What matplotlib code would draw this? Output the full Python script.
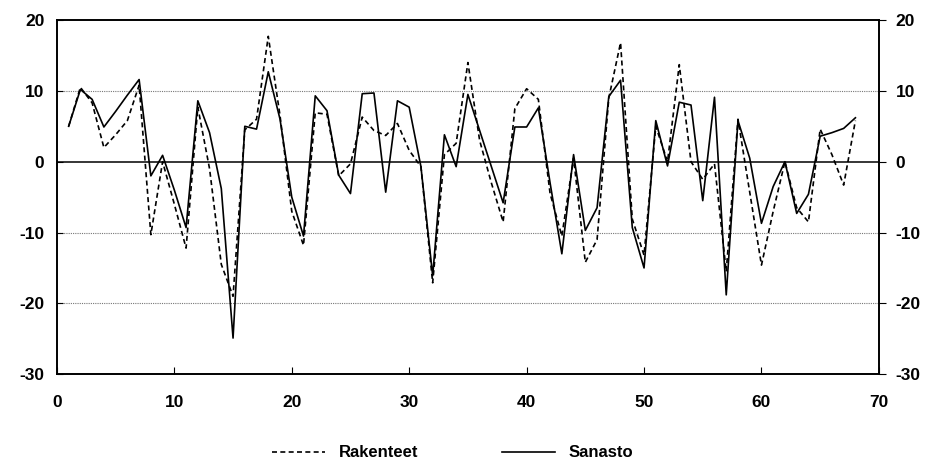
import matplotlib
matplotlib.use("Agg")
from matplotlib import pyplot as plt
import numpy as np

# havainnot 1..68
x = np.arange(1, 69)

sanasto = [5.0, 10.2, 8.8, 4.9, 7.1, 9.4, 11.6, -2.0, 0.9, -4.0,
           -9.3, 8.6, 4.1, -3.8, -24.9, 5.0, 4.6, 12.7, 6.0, -5.0,
           -10.5, 9.3, 7.2, -1.9, -4.5, 9.6, 9.7, -4.3, 8.6, 7.7,
           -0.7, -16.1, 3.8, -0.7, 9.5, 4.4, -0.7, -5.8, 4.9, 4.9,
           7.6, -3.0, -13.0, 1.0, -9.7, -6.5, 9.2, 11.5, -9.3, -15.0,
           5.8, -0.6, 8.4, 8.0, -5.5, 9.1, -18.8, 5.8, 0.5, -8.7,
           -3.5, 0.0, -7.3, -4.6, 3.6, 4.1, 4.7, 6.2]

rakenteet = [5.0, 10.5, 8.3, 2.0, 3.8, 5.8, 10.8, -10.3, 0.0, -6.0,
             -12.2, 7.7, -1.0, -14.5, -19.0, 4.5, 6.0, 17.7, 6.5, -7.0,
             -11.8, 6.9, 6.7, -2.0, -0.3, 6.3, 4.4, 3.7, 5.4, 1.6,
             -0.7, -17.1, 1.0, 2.6, 14.0, 3.0, -3.0, -8.5, 7.5, 10.3,
             8.8, -4.5, -10.5, 0.5, -14.2, -11.0, 9.0, 16.8, -8.1, -13.2,
             5.0, 0.0, 13.7, 0.0, -2.5, -0.3, -15.5, 6.0, -4.3, -14.6,
             -7.0, 0.0, -6.5, -8.5, 4.6, 1.0, -3.3, 5.8]

xticks = [0, 10, 20, 30, 40, 50, 60, 70]
yticks = [-30, -20, -10, 0, 10, 20]

plt.rcParams['font.family'] = ['Liberation Sans', 'DejaVu Sans']
plt.rcParams['axes.unicode_minus'] = False
plt.rcParams['font.weight'] = 'bold'

fig = plt.figure(figsize=(9.33, 4.66), dpi=100)
ax = fig.add_axes([0.061, 0.197, 0.881, 0.76])

for g in [10, -10, -20]:
	ax.axhline(g, color="#777777", lw=0.8, ls=(0, (1, 1)), zorder=1)
ax.axhline(0, color="black", lw=1.1, zorder=1)

l1, = ax.plot(x, rakenteet, color="black", lw=1.2, ls=(0, (3, 2)), label="Rakenteet")
l2, = ax.plot(x, sanasto, color="black", lw=1.2, label="Sanasto")

ax.set_xlim(0, 70)
ax.set_ylim(-30, 20)
ax.set_xticks(xticks)
ax.set_yticks(yticks)
ax.tick_params(axis="x", direction="in", length=5, pad=15, labelsize=12.5)
ax.tick_params(axis="y", direction="in", length=4, pad=9, labelsize=12.5)

ax2 = ax.twinx()
ax2.set_ylim(-30, 20)
ax2.set_yticks(yticks)
ax2.tick_params(axis="y", direction="out", length=5, pad=7, labelsize=12.5)

for a in (ax, ax2):
	for s in a.spines.values():
		s.set_linewidth(1.2)

fig.legend(handles=[l1, l2], loc="center", bbox_to_anchor=(0.485, 0.028),
	ncol=2, frameon=False, fontsize=12, handlelength=3.2, columnspacing=5)

fig.savefig("out.png", dpi=100)
